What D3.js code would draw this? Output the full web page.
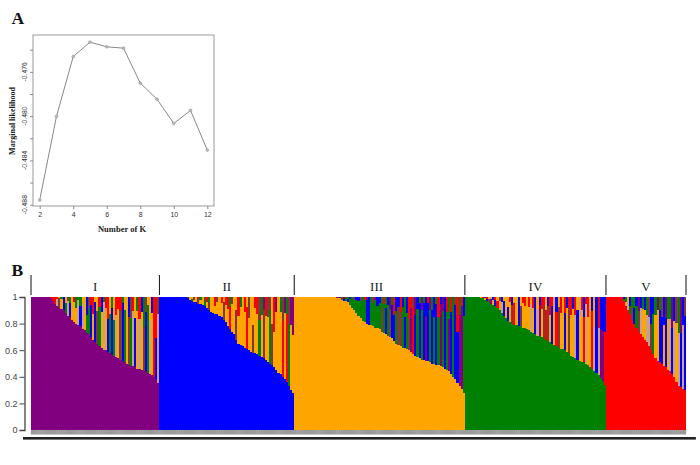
<!DOCTYPE html>
<html>
<head>
<meta charset="utf-8">
<script src="https://cdnjs.cloudflare.com/ajax/libs/d3/7.8.5/d3.min.js"></script>
<style>
html,body{margin:0;padding:0;background:#fff;}
svg{display:block;}
</style>
</head>
<body>
<svg width="700" height="465"></svg>
<script>
// panel A
const kValues=[2,3,4,5,6,7,8,9,10,11,12];
const likelihood=[-0.48758,-0.48003,-0.47462,-0.47332,-0.47374,-0.47386,-0.47702,-0.47847,-0.48066,-0.47949,-0.48307];
const kTicks=[2,4,6,8,10,12];
const likeMinor=[-0.474,-0.476,-0.478,-0.48,-0.482,-0.484,-0.486,-0.488];
const likeLabels=[-0.476,-0.48,-0.484,-0.488];

// panel B, main membership of every sample, sorted inside a group
const mainI=[1,1,1,1,1,1,1,1,1,.99,.97,.95,.93,.92,.91,.90,.88,.86,.85,.83,.81,.80,.79,.78,.76,.75,.73,.72,.70,.68,.66,.65,.63,.62,.60,.60,.59,.58,.57,.56,.55,.54,.53,.52,.51,.50,.49,.48,.48,.47,.46,.46,.45,.44,.44,.43,.42,.41,.40,.38,.355];
const mainII=[1,1,1,1,1,1,1,1,1,1,1,1,1,.99,.98,.97,.96,.96,.95,.95,.94,.93,.92,.90,.89,.88,.87,.87,.86,.85,.83,.81,.78,.76,.74,.72,.68,.65,.64,.63,.62,.61,.60,.59,.58,.58,.57,.56,.55,.54,.53,.51,.50,.49,.47,.45,.43,.42,.40,.38,.36,.33,.30,.28];
const mainIII=[1,1,1,1,1,1,1,1,1,1,1,1,1,1,1,1,1,1,1,1,.995,.99,.98,.97,.97,.96,.94,.92,.90,.88,.86,.84,.82,.81,.80,.79,.79,.78,.77,.77,.76,.74,.73,.72,.71,.70,.69,.67,.65,.64,.63,.62,.62,.61,.60,.59,.57,.56,.55,.54,.53,.53,.52,.52,.51,.50,.50,.49,.49,.48,.47,.46,.45,.44,.42,.40,.38,.35,.33,.31,.28];
const mainIV=[1,1,1,1,1,1,1,.995,.99,.98,.97,.96,.95,.94,.93,.92,.90,.88,.86,.84,.82,.81,.80,.79,.79,.78,.78,.77,.77,.76,.75,.74,.73,.72,.71,.71,.70,.69,.68,.67,.66,.65,.64,.63,.62,.61,.61,.60,.59,.58,.56,.55,.54,.53,.52,.51,.51,.50,.49,.47,.46,.44,.43,.41,.39,.37,.34];
const mainV=[1,1,1,1,1,1,1,1,.97,.93,.90,.87,.83,.80,.77,.74,.72,.70,.68,.66,.63,.60,.57,.54,.52,.51,.50,.48,.47,.45,.44,.42,.40,.36,.33,.32,.31,.30];

// residual of every sample: colour next to the main block, colour on top, share of the lower one in tenths
const lowI=".........r"+"rrtdobgtbo"+"ootbtoggbo"+"bdgotobgbg"+"todbgodgtb"+"otodbgtorbt";
const topI=".........r"+"rrrogbodgo"+"rgggoobdrr"+"oorbgrrogo"+"rrrgoobdro"+"grbgdoobrrd";
const shareI="0000000005"+"5589866877"+"8697895786"+"9787986786"+"7889867787"+"87868978558";

const lowII=".........."+"...oogoodo"+"ogodoooooo"+"dooroodooo"+"oroodoogod"+"oogdooooro"+"rgoo";
const topII=".........."+"...goodorg"+"odrgoordor"+"orrgdoorgo"+"rodoorrdgp"+"rddorpogdp"+"gdpp";
const shareII="0000000000"+"0006565776"+"6756785767"+"8767867688"+"7867587678"+"7786587878"+"8776";

const lowIII=".........."+".........."+"pgdbgbgggg"+"ggggbbgggg"+"gdgbgdbbgd"+"dgbgdprbgb"+"gbpbgbgbgp"+"gbgpbgbbppg";
const topIII=".........."+".........."+"bpgpdgbgdb"+"bdgrpbgdpb"+"bgrgbpgrbb"+"rbgbrrdpbg"+"pgbrpgbgrb"+"pbrgrgdrgrb";
const shareIII="0000000000"+"0000000000"+"5676767788"+"8899978897"+"8787878678"+"7867688789"+"8979887979"+"89878796898";

const lowIV=".......oto"+"bdpobrotbo"+"bodrobdooo"+"otobtpodrd"+"obordoobod"+"ootboortoo"+"rtbtppr";
const topIV=".......orb"+"rotbrodboo"+"orbooborro"+"rorbobrrob"+"rrtbororbr"+"rbrotrbrro"+"bobrbbb";
const shareIV="0000000555"+"6676767788"+"6878787877"+"7878787878"+"6887878788"+"7878787978"+"8686666";

const lowV="........go"+"tgdbgdtoot"+"tdgoobbobo"+"tbtotbtb";
const topV="........bg"+"obggbpbgbg"+"dbbgpgdbpg"+"gpbdgpbd";
const shareV="0000000055"+"6566767776"+"6577887677"+"76776678";

const groupNames=['I','II','III','IV','V'];
const mainAll=[mainI,mainII,mainIII,mainIV,mainV];
const lowAll=[lowI,lowII,lowIII,lowIV,lowV];
const topAll=[topI,topII,topIII,topIV,topV];
const shareAll=[shareI,shareII,shareIII,shareIV,shareV];
const mainColor=['p','b','o','g','r'];
const memberTicks=[0,.2,.4,.6,.8,1];

const colors={p:'#800080',b:'#0000ff',o:'#ffa500',g:'#008000',r:'#ff0000',t:'#c9a08c',d:'#7a3a3a'};

const svg=d3.select('svg');
const defs=svg.append('defs');
defs.append('filter').attr('id','soft').append('feGaussianBlur').attr('stdDeviation',0.45);
defs.append('filter').attr('id','softer').append('feGaussianBlur').attr('stdDeviation',0.3);

// ---------- A ----------
const xK=d3.scaleLinear().domain([2,12]).range([39.7,207.3]);
const yL=d3.scaleLinear().domain([-0.488,-0.474]).range([204.7,49.7]);
const gA=svg.append('g');

gA.append('rect').attr('x',33).attr('y',35).attr('width',181).attr('height',171)
  .attr('fill','none').attr('stroke','#999').attr('stroke-width',1);

const axK=gA.append('g').attr('transform','translate(0,206)')
  .call(d3.axisBottom(xK).tickValues(kTicks).tickSize(3).tickPadding(3).tickFormat(d3.format('d')));
axK.select('.domain').remove();
axK.selectAll('line').attr('stroke','#888');
axK.selectAll('text').attr('font-family','Liberation Sans').attr('font-size',7).attr('fill','#333');

const axL=gA.append('g').attr('transform','translate(33,0)')
  .call(d3.axisLeft(yL).tickValues(likeMinor).tickSize(3).tickFormat(''));
axL.select('.domain').remove();
axL.selectAll('line').attr('stroke','#888');

gA.selectAll('.likeLabel').data(likeLabels).enter().append('text')
  .attr('class','likeLabel')
  .attr('transform',d=>`translate(27,${yL(d)}) rotate(-90)`)
  .attr('text-anchor','middle')
  .attr('font-family','Liberation Sans').attr('font-size',6.8).attr('fill','#333')
  .text(d=>d3.format('.3f')(d).replace('−','-'));

const likeLine=d3.line().x((d,i)=>xK(kValues[i])).y(d=>yL(d));
const marksA=gA.append('g').attr('filter','url(#softer)');
marksA.append('path').attr('d',likeLine(likelihood))
  .attr('fill','none').attr('stroke','#888').attr('stroke-width',1);
marksA.selectAll('circle').data(likelihood).enter().append('circle')
  .attr('cx',(d,i)=>xK(kValues[i])).attr('cy',d=>yL(d)).attr('r',1.4)
  .attr('fill','#bbb').attr('stroke','#999').attr('stroke-width',.6);

gA.append('text').attr('x',122).attr('y',232).attr('text-anchor','middle')
  .attr('font-family','Liberation Serif').attr('font-weight','bold').attr('font-size',8.5).attr('fill','#222')
  .text('Number of K');
gA.append('text').attr('transform','translate(15,121) rotate(-90)').attr('text-anchor','middle')
  .attr('font-family','Liberation Serif').attr('font-weight','bold').attr('font-size',8).attr('fill','#222')
  .text('Marginal likelihood');

const panelLabel=(txt,x,y)=>svg.append('text').attr('x',x).attr('y',y)
  .attr('font-family','Liberation Serif').attr('font-weight','bold').attr('font-size',17.5).attr('fill','#111')
  .text(txt);
panelLabel('A',11.5,23.5);
panelLabel('B',11.5,276);

// ---------- B ----------
// one row per sample, main + lower + top always add up to 1
let rows=[];
let groupStart=[];
mainAll.forEach((vals,g)=>{
  groupStart.push(rows.length);
  vals.forEach((v,i)=>{
    let rest=1-v;
    let low=rest*(+shareAll[g][i])/10;
    rows.push({id:rows.length,group:g,main:v,low:low,top:rest-low,
      cMain:mainColor[g],cLow:lowAll[g][i],cTop:topAll[g][i]});
  });
});

const xS=d3.scaleBand().domain(rows.map(d=>d.id)).range([31,686]);
const yM=d3.scaleLinear().domain([0,1]).range([430,297]);
const stack=d3.stack().keys(['main','low','top']);
const colorKey={main:'cMain',low:'cLow',top:'cTop'};

// crisp edges on whole pixels, otherwise white streaks show between the bars
const bars=svg.append('g').attr('filter','url(#soft)');
bars.selectAll('g').data(stack(rows)).enter().append('g')
  .selectAll('rect').data(s=>s.map(p=>({p:p,key:s.key}))).enter().append('rect')
  .attr('shape-rendering','crispEdges')
  .attr('x',d=>Math.round(xS(d.p.data.id)))
  .attr('width',d=>Math.round(xS(d.p.data.id)+xS.step())-Math.round(xS(d.p.data.id)))
  .attr('y',d=>yM(d.p[1]))
  .attr('height',d=>yM(d.p[0])-yM(d.p[1]))
  .attr('fill',d=>colors[d.p.data[colorKey[d.key]]]||'none');

// member axis
const axM=svg.append('g').attr('transform','translate(24.5,0)')
  .call(d3.axisLeft(yM).tickValues(memberTicks).tickSize(5).tickPadding(2).tickFormat(d=>d));
axM.select('.domain').attr('stroke','#444').attr('stroke-width',1.3);
axM.selectAll('line').attr('stroke','#444');
axM.selectAll('text').attr('font-family','Liberation Sans').attr('font-size',9).attr('fill','#444');

// sample ticks and the smear of overlapping sample labels
const axS=svg.append('g').attr('transform','translate(0,430)')
  .call(d3.axisBottom(xS).tickSize(4.5).tickFormat(''));
axS.select('.domain').remove();
axS.selectAll('line').attr('stroke','#9a9a9a').attr('stroke-width',2.4);

svg.append('rect').attr('x',xS(0)-8).attr('y',437)
  .attr('width',xS(rows.length-1)-xS(0)+20).attr('height',2.6)
  .attr('fill','#222').attr('filter','url(#soft)');

// group brackets
const bounds=groupStart.concat([rows.length]);
const boundX=i=>i<rows.length?xS(i):xS.range()[1];
svg.selectAll('.sep').data(bounds).enter().append('line').attr('class','sep')
  .attr('x1',d=>boundX(d)).attr('x2',d=>boundX(d))
  .attr('y1',275).attr('y2',295)
  .attr('stroke','#222').attr('stroke-width',1.1);
// III sits a little left of the middle of its bracket
svg.selectAll('.grp').data(groupNames).enter().append('text').attr('class','grp')
  .attr('x',(d,i)=>(boundX(bounds[i])+boundX(bounds[i+1]))/2-(d=='III'?3:0))
  .attr('y',291).attr('text-anchor','middle')
  .attr('font-family','Liberation Serif').attr('font-size',13).attr('fill','#222')
  .text(d=>d);
</script>
</body>
</html>
